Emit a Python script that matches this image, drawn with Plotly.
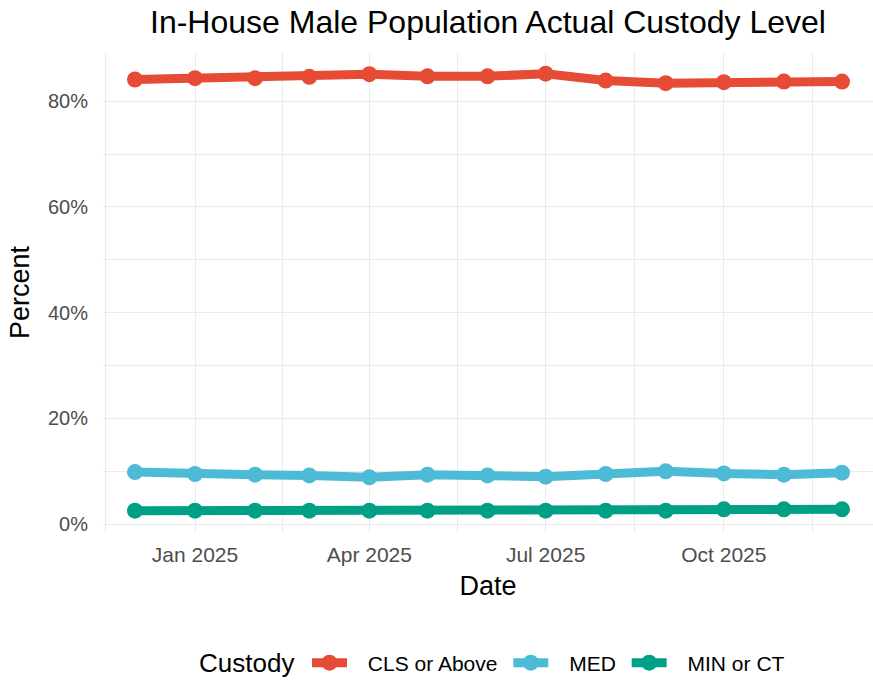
import plotly.graph_objects as go
import pandas as pd

# ---- data ----
months = ["2024-12-01", "2025-01-01", "2025-02-01", "2025-03-01", "2025-04-01",
          "2025-05-01", "2025-06-01", "2025-07-01", "2025-08-01", "2025-09-01",
          "2025-10-01", "2025-11-01", "2025-12-01"]
cls_or_above = [84.1, 84.35, 84.35, 84.6, 85.1, 84.7, 84.7, 85.2, 83.9, 83.4, 83.6, 83.7, 83.7]
med = [9.83, 9.46, 9.33, 9.2, 8.83, 9.33, 9.2, 8.95, 9.46, 9.96, 9.58, 9.33, 9.71]
min_or_ct = [2.52, 2.52, 2.52, 2.52, 2.52, 2.52, 2.52, 2.52, 2.52, 2.52, 2.77, 2.77, 2.77]

series_names = ["CLS or Above", "MED", "MIN or CT"]
series_values = [cls_or_above, med, min_or_ct]
series_colors = ["#E64B35", "#4DBBD5", "#00A087"]

y_ticks = [0, 20, 40, 60, 80]
y_minor = [10, 30, 50, 70, 90]
x_ticks = ["2025-01-01", "2025-04-01", "2025-07-01", "2025-10-01"]
x_ticklabels = ["Jan 2025", "Apr 2025", "Jul 2025", "Oct 2025"]

dates = pd.to_datetime(months)
major = pd.to_datetime(["2024-10-01"] + x_ticks + ["2026-01-01"])
x_minor = [major[i] + (major[i + 1] - major[i]) / 2 for i in range(len(major) - 1)]

FONT = "Liberation Sans, Arial, sans-serif"
NB = "\u00a0"
TS = "\u2009"

fig = go.Figure()
for name, vals, col in zip(series_names, series_values, series_colors):
    fig.add_trace(go.Scatter(
        x=dates, y=vals, name=NB * 2 + TS + name + NB, mode="lines+markers",
        line=dict(color=col, width=9),
        marker=dict(color=col, size=16),
    ))

W, H = 873, 680
PL, PR = 103, 873         # plot area left/right in px
PT, PB = 52, 533          # plot area top/bottom in px
pw, ph = PR - PL, PB - PT
LEG_Y = (PB - 663) / ph

fig.update_layout(
    width=W, height=H,
    margin=dict(l=PL, r=W - PR, t=PT, b=H - PB, autoexpand=False),
    paper_bgcolor="white", plot_bgcolor="white",
    font=dict(family=FONT, color="black"),
    title=dict(text="In-House Male Population Actual Custody Level",
               x=0.5, xref="paper", xanchor="center",
               y=1 - 22 / H, yref="container", yanchor="middle",
               font=dict(size=32, color="black")),
    showlegend=True,
    legend=dict(orientation="h", x=(307 - PL) / pw, xanchor="left",
                y=LEG_Y, yanchor="middle",
                font=dict(size=21, color="black"), itemwidth=35, valign="middle"),
    annotations=[dict(text="Custody", xref="paper", yref="paper",
                      x=(197 - PL) / pw, xanchor="left",
                      y=LEG_Y, yanchor="middle",
                      showarrow=False, font=dict(size=26, color="black"))],
)

fig.update_xaxes(
    range=["2024-11-14 12:00", "2025-12-17"],
    tickvals=pd.to_datetime(x_ticks), ticktext=x_ticklabels,
    showgrid=True, gridcolor="#EBEBEB", gridwidth=1.3,
    minor=dict(tickvals=x_minor, showgrid=True, gridcolor="#EBEBEB", gridwidth=0.7),
    zeroline=False, showline=False, ticks="",
    tickfont=dict(size=21, color="#4D4D4D"), ticklabelstandoff=7,
    title=dict(text="Date", font=dict(size=27, color="black"), standoff=11),
    automargin=False,
)
fig.update_yaxes(
    range=[-1.7, 89.3],
    tickvals=y_ticks, ticktext=[f"{v}%" for v in y_ticks],
    showgrid=True, gridcolor="#EBEBEB", gridwidth=1.3,
    minor=dict(tickvals=y_minor, showgrid=True, gridcolor="#EBEBEB", gridwidth=0.7),
    zeroline=False, showline=False, ticks="",
    tickfont=dict(size=20, color="#4D4D4D"), ticklabelstandoff=14,
    title=dict(text="Percent", font=dict(size=27, color="black"), standoff=10),
    automargin=False,
)

# remove the browser's default 8px body margin so the figure fills the window
fig.write_html("out.html", config={"displayModeBar": False},
               post_script="document.body.style.margin='0px';")
